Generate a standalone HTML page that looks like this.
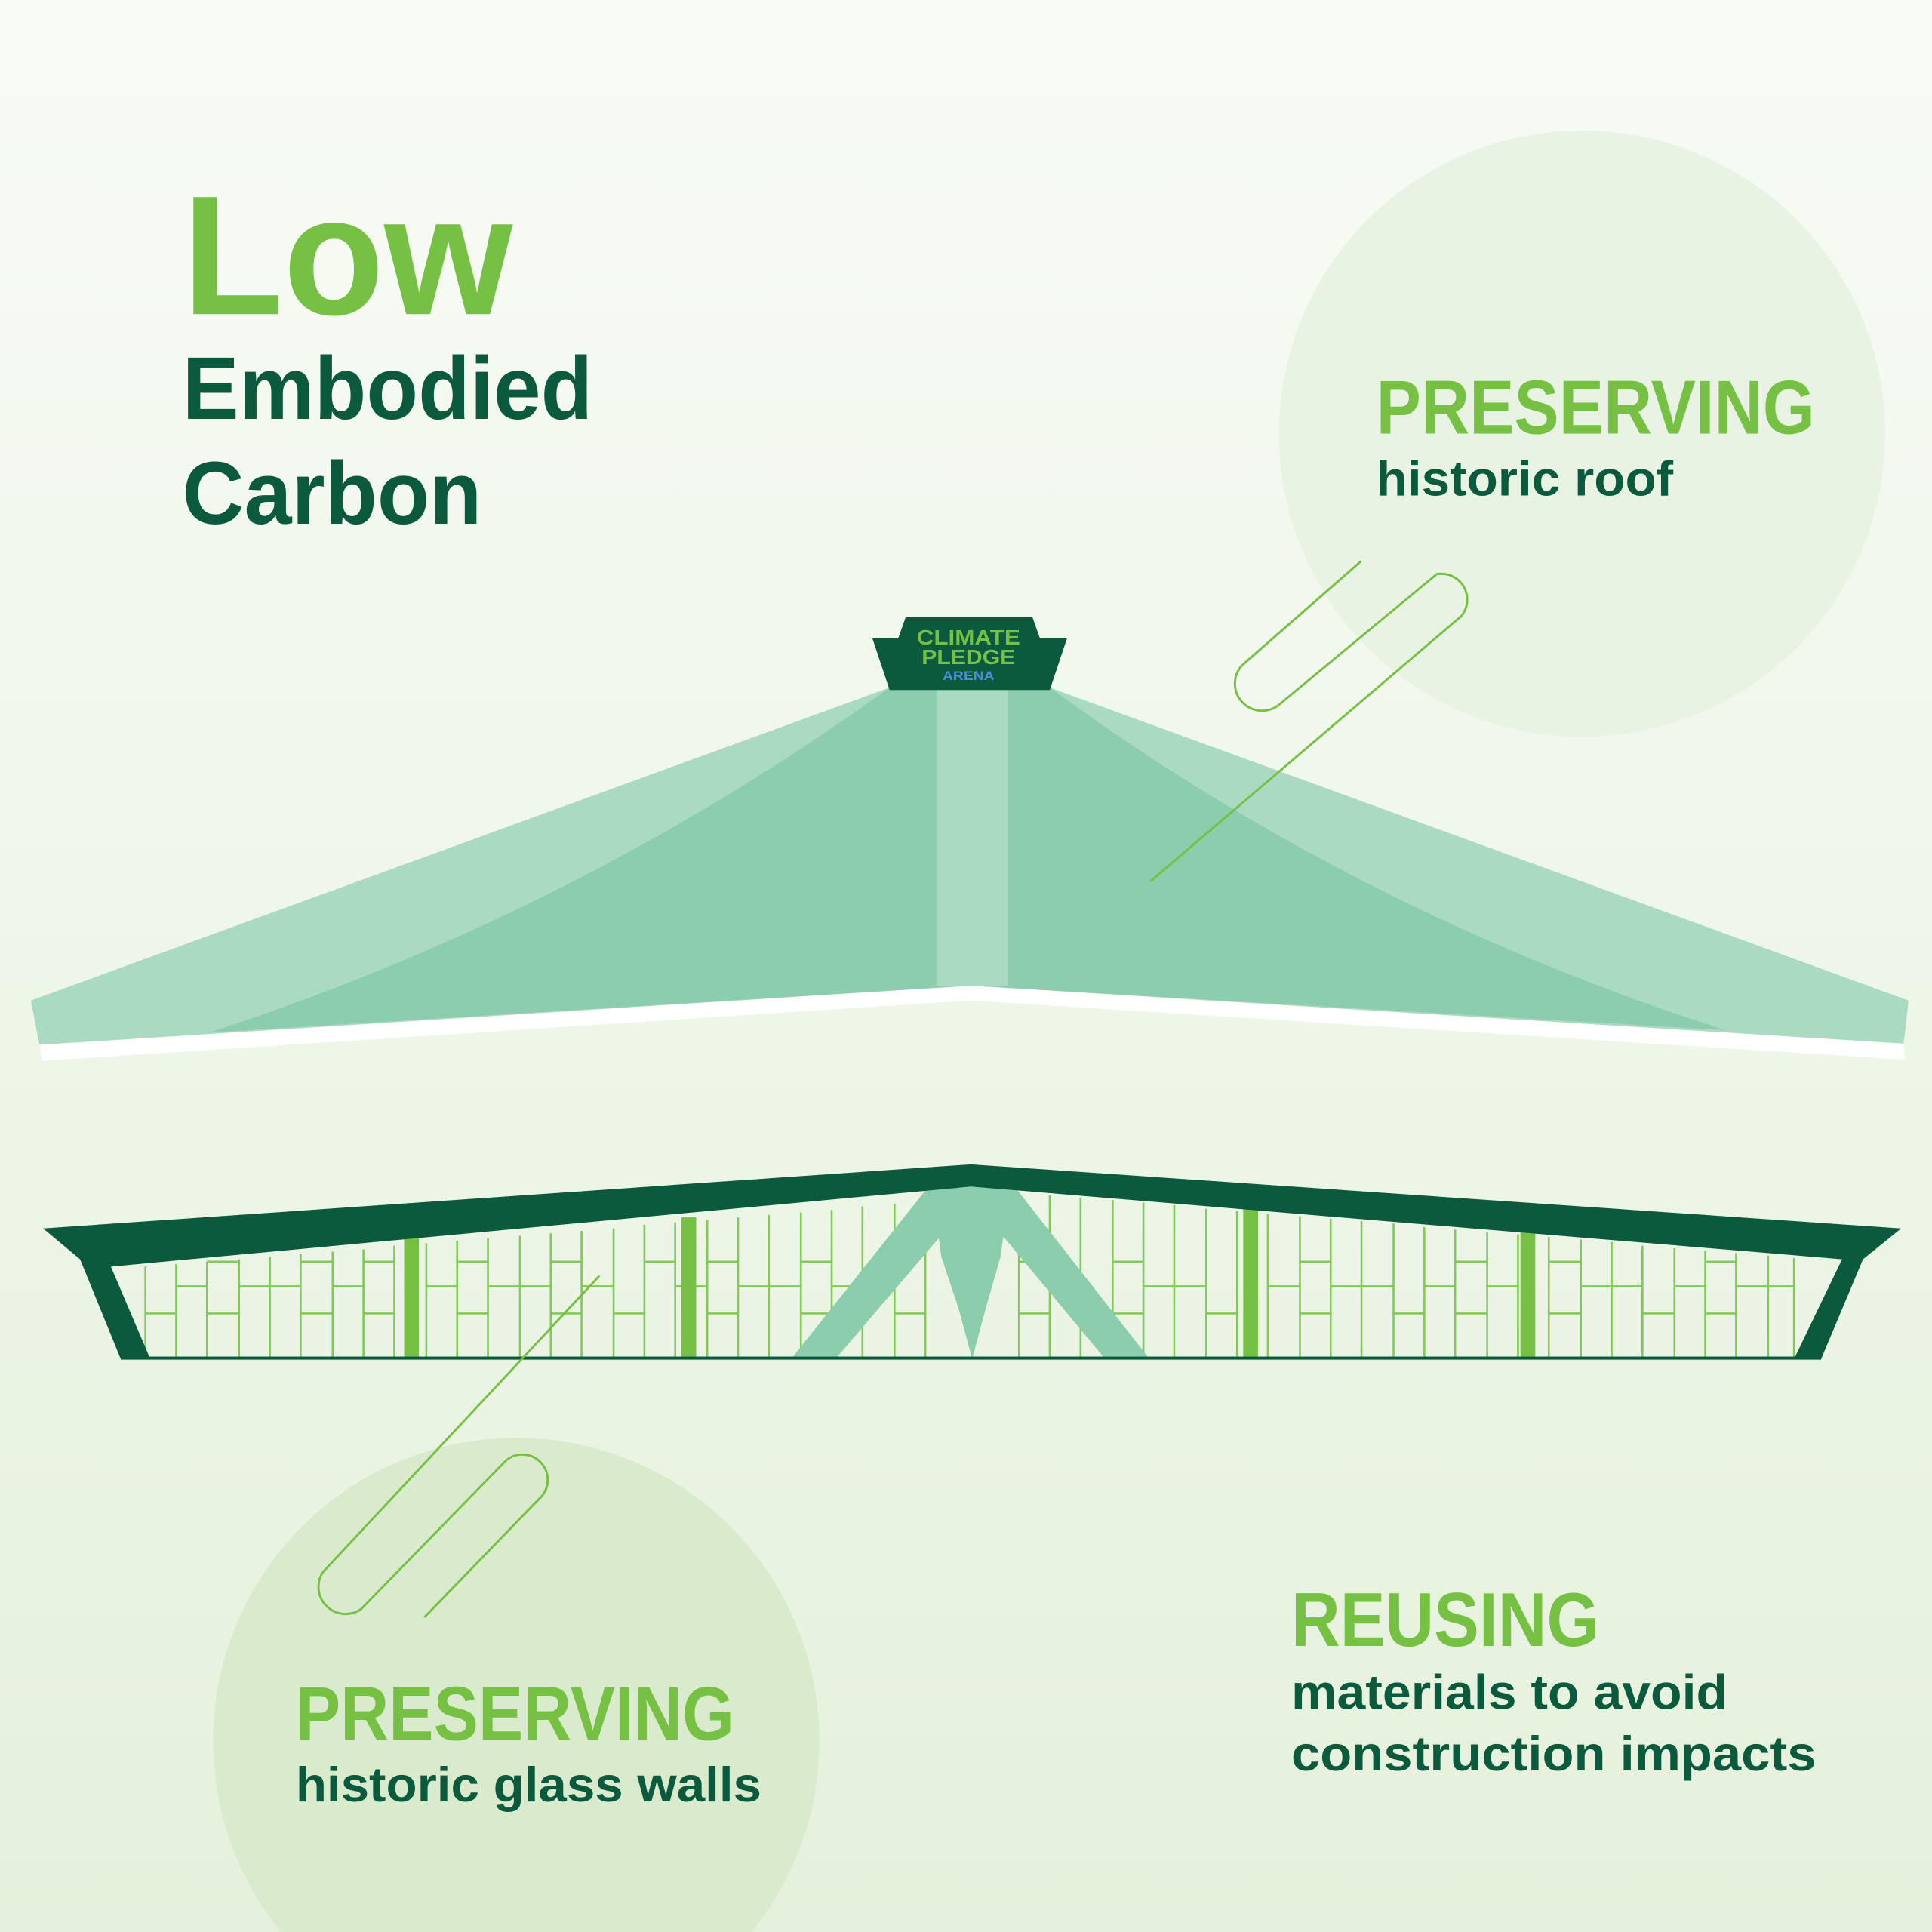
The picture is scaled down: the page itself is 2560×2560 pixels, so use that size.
<!DOCTYPE html>
<html><head><meta charset="utf-8"><style>
html,body{margin:0;padding:0;width:2560px;height:2560px;overflow:hidden}
svg{display:block;overflow:hidden}
text{font-family:"Liberation Sans",sans-serif;font-weight:bold}
</style></head><body>
<svg width="2560" height="2560" viewBox="0 0 1568 1568" xmlns="http://www.w3.org/2000/svg">
<defs>
<linearGradient id="bg" x1="0" y1="0" x2="0" y2="1">
<stop offset="0" stop-color="#f8fbf6"/><stop offset="1" stop-color="#e5f1dc"/>
</linearGradient>
</defs>
<rect width="1568" height="1568" fill="url(#bg)"/>
<circle cx="1284" cy="352" r="246" fill="#e9f3e3"/>
<circle cx="419" cy="1413" r="246" fill="#d9eacd"/>

<polygon points="722,558 852,558 1549,812 1545,847 788,800 32,848 25,812" fill="#abdac2"/>
<path d="M722,558 Q470,740 170,838 L788,800 L1400,836 Q1100,740 852,558 Z" fill="#8bcdac"/>
<polygon points="760,558 818,558 818,800 760,800" fill="#abdac2"/>
<polygon points="32,848 788,800 1545,847 1546,860 788,812 34,861" fill="#ffffff"/>

<polygon points="735,501 838,501 844,518 866,518 852,560 722,560 708,518 729,518" fill="#0b5a3e"/>
<text x="786" y="523" font-size="17" fill="#76c043" text-anchor="middle" textLength="84" lengthAdjust="spacingAndGlyphs">CLIMATE</text>
<text x="786" y="539" font-size="17" fill="#76c043" text-anchor="middle" textLength="76" lengthAdjust="spacingAndGlyphs">PLEDGE</text>
<text x="786" y="552" font-size="10" fill="#4a8fd6" text-anchor="middle" textLength="42" lengthAdjust="spacingAndGlyphs">ARENA</text>

<g stroke="#82c85a" stroke-width="1.6">
<path d="M118,1028V1103M143,1026V1103M168,1024V1103M194,1022V1103M219,1020V1103M244,1018V1103M270,1016V1103M295,1014V1103M320,1011V1103M346,1009V1103M371,1007V1103M396,1005V1103M422,1003V1103M447,1001V1103M472,999V1103M498,997V1103M523,994V1103M548,992V1103M574,990V1103M599,988V1103M624,986V1103M650,984V1103M675,982V1103M700,979V1103M726,977V1103M751,975V1103M827,968V1103M852,970V1103M877,972V1103M903,974V1103M928,976V1103M953,978V1103M979,981V1103M1004,983V1103M1029,985V1103M1055,987V1103M1080,989V1103M1105,991V1103M1131,993V1103M1156,996V1103M1181,998V1103M1207,1000V1103M1232,1002V1103M1257,1004V1103M1283,1006V1103M1308,1008V1103M1333,1011V1103M1359,1013V1103M1384,1015V1103M1409,1017V1103M1435,1019V1103M1456,1021V1103"/>
<path d="M118,1066H143M143,1044H168M168,1024H194M168,1066H194M194,1044H244M244,1024H270M244,1066H270M270,1044H295M295,1024H320M295,1066H320M346,1044H371M371,1024H396M371,1066H396M396,1044H447M447,1024H472M447,1066H472M472,1044H498M498,1066H523M523,1024H548M548,1044H574M574,1024H599M574,1066H599M599,1044H650M650,1024H675M650,1066H675M675,1044H726M726,1066H751M827,1024H852M827,1066H852M852,1044H877M877,1066H903M903,1024H928M903,1066H928M928,1044H979M979,1066H1004M1029,1044H1055M1055,1024H1080M1055,1066H1080M1080,1044H1131M1131,1066H1156M1156,1044H1181M1181,1024H1207M1181,1066H1207M1207,1044H1232M1257,1024H1283M1257,1066H1283M1283,1044H1333M1333,1066H1359M1359,1044H1384M1384,1024H1409M1384,1066H1409M1409,1044H1456"/>
</g>
<g fill="#76c043">
<rect x="328" y="1005" width="12" height="98"/>
<rect x="553" y="988" width="12" height="115"/>
<rect x="1009" y="980" width="12" height="123"/>
<rect x="1234" y="998" width="12" height="105"/>
</g>
<g fill="#8bcdac">
<polygon points="642,1103 678,1103 790,972 790,960 752,965"/>
<polygon points="933,1103 897,1103 788,972 788,960 825,965"/>
<polygon points="756,962 820,962 812,1020 800,1062 789,1103 778,1062 764,1020"/>
</g>
<g fill="#0b5a3e">
<polygon points="35,997 788,945 1543,997 1512,1022 1478,1103 1456,1103 1495,1022 788,963 90,1028 122,1103 98,1103 65,1022"/>
<rect x="98" y="1101" width="1380" height="2.5"/>
</g>

<g fill="none" stroke="#76c043" stroke-width="1.8" stroke-linecap="round">
<path d="M1104,456 L1008,540 A22 22 0 0 0 1038,572 L1166,466 A21 21 0 0 1 1186,500 L934,715"/>
<path d="M486,1036 L262,1276 A22 22 0 0 0 293,1306 L410,1186 A20 20 0 0 1 438,1216 L345,1312"/>
</g>

<text x="148" y="255" font-size="138" fill="#76c043" textLength="268" lengthAdjust="spacingAndGlyphs">Low</text>
<text x="148" y="340" font-size="72" fill="#0b5a3e" textLength="333" lengthAdjust="spacingAndGlyphs">Embodied</text>
<text x="148" y="425" font-size="72" fill="#0b5a3e" textLength="243" lengthAdjust="spacingAndGlyphs">Carbon</text>

<text x="1117" y="352" font-size="62" fill="#76c043" textLength="356" lengthAdjust="spacingAndGlyphs">PRESERVING</text>
<text x="1117" y="402" font-size="40" fill="#0b5a3e" textLength="241" lengthAdjust="spacingAndGlyphs">historic roof</text>

<text x="240" y="1412" font-size="62" fill="#76c043" textLength="356" lengthAdjust="spacingAndGlyphs">PRESERVING</text>
<text x="240" y="1462" font-size="40" fill="#0b5a3e" textLength="378" lengthAdjust="spacingAndGlyphs">historic glass walls</text>

<text x="1048" y="1336" font-size="62" fill="#76c043" textLength="250" lengthAdjust="spacingAndGlyphs">REUSING</text>
<text x="1048" y="1387" font-size="40" fill="#0b5a3e" textLength="354" lengthAdjust="spacingAndGlyphs">materials to avoid</text>
<text x="1048" y="1437" font-size="40" fill="#0b5a3e" textLength="426" lengthAdjust="spacingAndGlyphs">construction impacts</text>
</svg>
</body></html>
